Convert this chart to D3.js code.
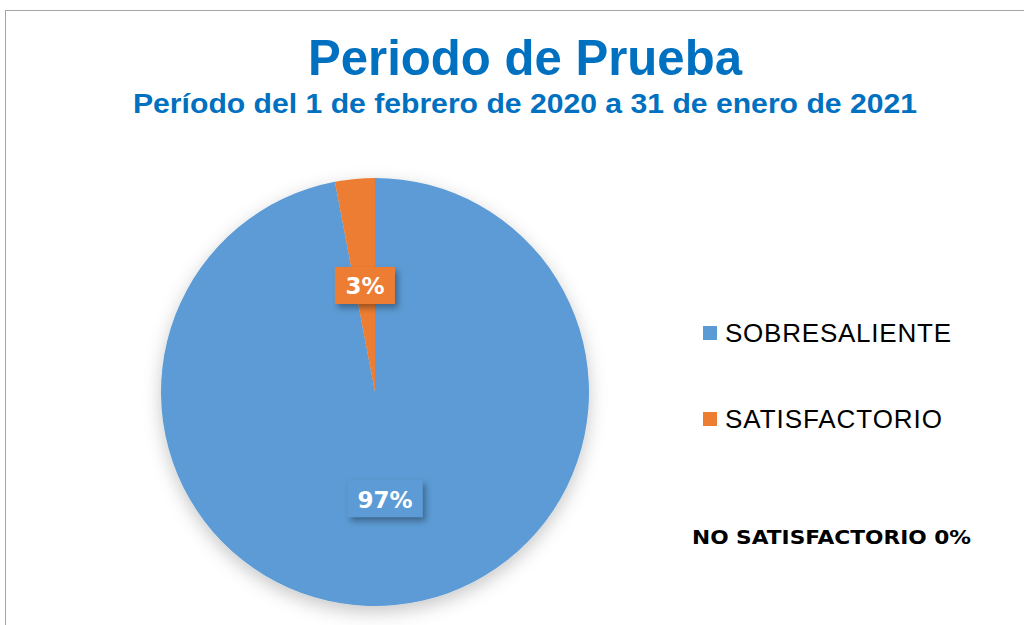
<!DOCTYPE html>
<html>
<head>
<meta charset="utf-8">
<script src="https://cdn.jsdelivr.net/npm/d3@7"></script>
<style>
  body { margin: 0; background: #fff; }
  svg { display: block; }
</style>
</head>
<body>
<div id="chart"></div>
<script>
var categories = ["SOBRESALIENTE", "SATISFACTORIO"]
var values = [97, 3]
var colors = ["#5B9BD5", "#ED7D31"]
var noteLabel = "NO SATISFACTORIO"
var noteValue = 0

var width = 1024
var height = 625

var svg = d3.select('#chart').append("svg")
  .attr('width', width).attr('height', height)

var defs = svg.append("defs")
var shadow = defs.append("filter").attr("id", "pieShadow")
  .attr("x", "-20%").attr("y", "-20%").attr("width", "140%").attr("height", "140%")
shadow.append("feDropShadow")
  .attr("dx", 0).attr("dy", 6).attr("stdDeviation", 9)
  .attr("flood-color", "#000").attr("flood-opacity", 0.22)

var boxShadow = defs.append("filter").attr("id", "boxShadow")
  .attr("x", "-30%").attr("y", "-30%").attr("width", "160%").attr("height", "160%")
boxShadow.append("feDropShadow")
  .attr("dx", 3).attr("dy", 4).attr("stdDeviation", 3)
  .attr("flood-color", "#000").attr("flood-opacity", 0.35)

// chart border (runs off the page right and bottom)
svg.append("rect")
  .attr("x", 5.5).attr("y", 10.5)
  .attr("width", 1100).attr("height", 700)
  .attr("fill", "none").attr("stroke", "#a6a6a6").attr("stroke-width", 1)

// titles
svg.append("text")
  .attr("x", 308).attr("y", 75)
  .attr("textLength", 434).attr("lengthAdjust", "spacingAndGlyphs")
  .style("font-family", "'Liberation Sans', Arial, sans-serif")
  .style("font-weight", "bold").style("font-size", "50px")
  .style("fill", "#0070C0")
  .text("Periodo de Prueba")

svg.append("text")
  .attr("x", 133).attr("y", 113)
  .attr("textLength", 784).attr("lengthAdjust", "spacingAndGlyphs")
  .style("font-family", "'Liberation Sans', Arial, sans-serif")
  .style("font-weight", "bold").style("font-size", "27px")
  .style("fill", "#0070C0")
  .text("Período del 1 de febrero de 2020 a 31 de enero de 2021")

// pie
var cx = 375, cy = 392, radius = 214

var pie = d3.pie().sort(null).value(function(d) { return d })
var arcs = pie(values)
var arc = d3.arc().innerRadius(0).outerRadius(radius)

var g = svg.append("g").attr("transform", "translate(" + cx + "," + cy + ")")

g.append("g").attr("filter", "url(#pieShadow)")
  .selectAll("path")
  .data(arcs)
  .enter().append("path")
  .attr("d", arc)
  .attr("fill", function(d, i) { return colors[i] })

// data labels in boxes, halfway out
var labelArc = d3.arc().innerRadius(radius * 0.5).outerRadius(radius * 0.5)
var boxW = [75, 60], boxH = 37

var labels = g.selectAll("g.lbl")
  .data(arcs)
  .enter().append("g")
  .attr("class", "lbl")
  .attr("transform", function(d) {
    var p = labelArc.centroid(d)
    return "translate(" + p[0] + "," + p[1] + ")"
  })

labels.append("rect")
  .attr("x", function(d, i) { return -boxW[i] / 2 })
  .attr("y", -boxH / 2)
  .attr("width", function(d, i) { return boxW[i] })
  .attr("height", boxH)
  .attr("fill", function(d, i) { return colors[i] })
  .attr("filter", "url(#boxShadow)")

labels.append("text")
  .attr("text-anchor", "middle")
  .attr("dy", 9)
  .style("font-family", "'DejaVu Sans', sans-serif")
  .style("font-weight", "bold").style("font-size", "23px")
  .style("fill", "#fff")
  .text(function(d, i) { return values[i] + "%" })

// legend
var legendY = [333, 419]
var legendW = [226, 217]
var legend = svg.append("g").selectAll("g")
  .data(categories)
  .enter().append("g")
  .attr("transform", function(d, i) { return "translate(703," + legendY[i] + ")" })

legend.append("rect")
  .attr("x", 0).attr("y", -7)
  .attr("width", 14).attr("height", 14)
  .attr("fill", function(d, i) { return colors[i] })

legend.append("text")
  .attr("x", 22).attr("y", 9)
  .attr("textLength", function(d, i) { return legendW[i] })
  .attr("lengthAdjust", "spacing")
  .style("font-family", "'Liberation Sans', Arial, sans-serif")
  .style("font-size", "26px")
  .style("fill", "#000")
  .text(function(d) { return d })

svg.append("text")
  .attr("x", 692).attr("y", 544)
  .attr("textLength", 279).attr("lengthAdjust", "spacingAndGlyphs")
  .style("font-family", "'DejaVu Sans', sans-serif")
  .style("font-weight", "bold").style("font-size", "20px")
  .style("fill", "#000")
  .text(noteLabel + " " + noteValue + "%")
</script>
</body>
</html>
